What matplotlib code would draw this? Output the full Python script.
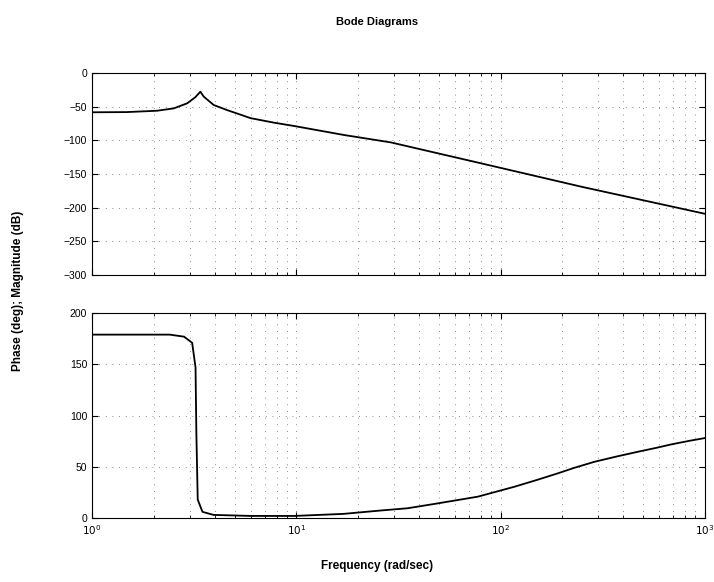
import matplotlib
matplotlib.use("Agg")
import matplotlib.pyplot as plt
from matplotlib.ticker import FixedLocator, LogLocator, NullFormatter

# magnitude curve (rad/sec, dB)
mag_w = [1.0, 1.48, 2.08, 2.51, 2.92, 3.2, 3.39, 3.52, 3.94, 4.58, 5.97, 7.77, 9.73, 17.1, 29.0, 80.0, 250.0, 1000.0]
mag_db = [-58.3, -58, -56, -52.5, -45, -36, -27.7, -35, -47.5, -55, -67, -73.7, -78.6, -92, -103, -134, -169, -209]

# phase curve (rad/sec, deg)
ph_w = [1.0, 2.4, 2.82, 3.09, 3.21, 3.24, 3.29, 3.47, 3.93, 6.0, 9.8, 17.0, 25.9, 35.1, 47.4, 77.4, 117.0,
        150.0, 191.0, 230.0, 289.0, 370.0, 472.0, 580.0, 688.0, 850.0, 1000.0]
ph_deg = [179, 179, 177, 171, 147, 83, 18, 6, 3, 2, 2, 4, 7.3, 9.5, 13.7, 20.8, 30.5,
          37, 43.6, 49, 54.9, 60, 64.7, 68.5, 71.9, 75.5, 78]

mag_ticks = [0, -50, -100, -150, -200, -250, -300]
ph_ticks = [0, 50, 100, 150, 200]
freq_ticks = [1, 10, 100, 1000]
freq_labels = [r"$10^{0}$", r"$10^{1}$", r"$10^{2}$", r"$10^{3}$"]

plt.rcParams['font.family'] = ['Liberation Sans', 'DejaVu Sans']

fig = plt.figure(figsize=(7.14, 5.82), dpi=100)
ax1 = fig.add_axes([0.129, 0.5275, 0.858, 0.347])
ax2 = fig.add_axes([0.129, 0.110, 0.858, 0.352])

grid_kw = dict(which="both", color="k", linestyle=(0, (1, 7)), linewidth=0.6, alpha=0.6)

for ax in (ax1, ax2):
    ax.set_xscale("log")
    ax.set_xlim(1, 1000)
    ax.xaxis.set_major_locator(FixedLocator(freq_ticks))
    ax.xaxis.set_minor_locator(LogLocator(base=10, subs=range(2, 10)))
    ax.xaxis.set_minor_formatter(NullFormatter())
    ax.grid(**grid_kw)
    ax.tick_params(direction="in", which="both", top=True, right=True, labelsize=7.5)
    ax.tick_params(which="major", length=4)
    ax.tick_params(which="minor", length=2)
    for s in ax.spines.values():
        s.set_linewidth(0.8)

ax1.plot(mag_w, mag_db, color="k", linewidth=1.3)
ax1.set_ylim(-300, 0)
ax1.set_yticks(mag_ticks)
ax1.set_xticklabels([])

ax2.plot(ph_w, ph_deg, color="k", linewidth=1.3)
ax2.set_ylim(0, 200)
ax2.set_yticks(ph_ticks)
ax2.set_xticks(freq_ticks)
ax2.set_xticklabels(freq_labels)

fig.text(0.528, 0.962, "Bode Diagrams", ha="center", va="center", fontsize=8, fontweight="bold")
fig.text(0.528, 0.028, "Frequency (rad/sec)", ha="center", va="center", fontsize=8.5, fontweight="bold")
fig.text(0.025, 0.50, "Phase (deg); Magnitude (dB)", ha="center", va="center",
         rotation=90, fontsize=8.5, fontweight="bold")

fig.savefig("out.png", dpi=100)
